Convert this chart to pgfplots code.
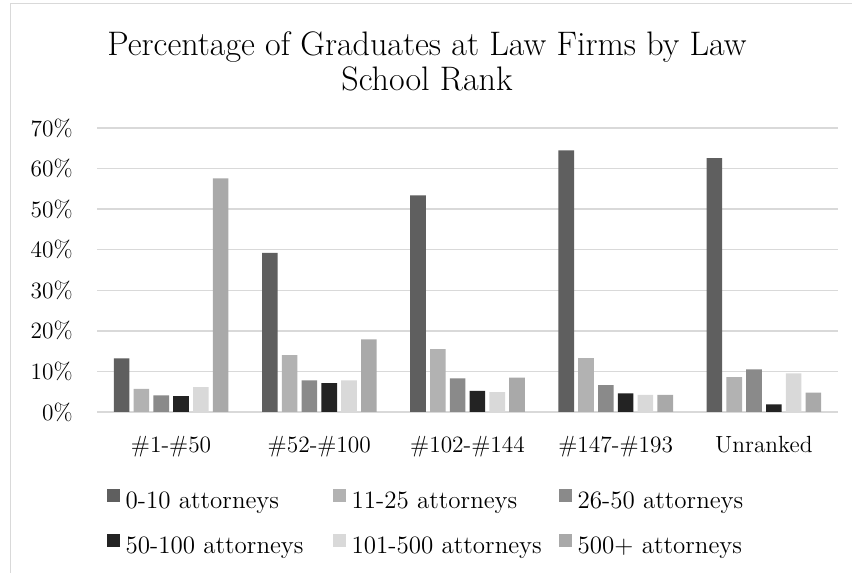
\documentclass[border=0pt]{standalone}
\usepackage{pgfplots}
\pgfplotsset{compat=1.18}
\definecolor{c1}{HTML}{5F5F5F}
\definecolor{c2}{HTML}{B2B2B2}
\definecolor{c3}{HTML}{8A8A8A}
\definecolor{c4}{HTML}{232323}
\definecolor{c5}{HTML}{D9D9D9}
\definecolor{c6}{HTML}{A9A9A9}
\definecolor{gridc}{HTML}{D9D9D9}
\begin{document}
\begin{tikzpicture}
\useasboundingbox (0,0) rectangle (426pt,286.5pt);
\fill[white] (0,0) rectangle (426pt,286.5pt);
\draw[gridc, line width=0.75pt] (5.25pt,0) -- (5.25pt,284.75pt) -- (426pt,284.75pt);
\node[align=center, font=\fontsize{17}{17.5}\selectfont] at (213.5pt,256pt) {Percentage of Graduates at Law Firms by Law\\School Rank};
\begin{axis}[
  at={(48.5pt,80.5pt)}, anchor=south west,
  scale only axis, width=370.5pt, height=142pt,
  ymin=0, ymax=70, xmin=-0.5, xmax=4.5,
  ybar=2.1pt, bar width=7.8pt,
  xtick={0,...,4},
  xticklabels={\#1-\#50,\#52-\#100,\#102-\#144,\#147-\#193,Unranked},
  ytick={0,10,...,70},
  yticklabels={0\%,10\%,20\%,30\%,40\%,50\%,60\%,70\%},
  tick style={draw=none}, major tick length=0pt,
  axis x line*=bottom, axis y line*=left,
  x axis line style={gridc, line width=0.75pt, -},
  y axis line style={draw=none, -},
  ymajorgrids, grid style={gridc, line width=0.75pt},
  tick label style={font=\fontsize{11.7}{13}\selectfont},
  xticklabel style={anchor=base, yshift=-20.5pt},
  yticklabel style={anchor=east, inner xsep=0pt, xshift=-12pt},
  legend columns=3,
  legend cell align=left,
  legend image code/.code={\draw[#1, draw=none] (0pt,0.5pt) rectangle (6.5pt,7pt);},
  legend style={at={(0.0135,-0.2711)}, anchor=north west, draw=none, fill=none,
    inner sep=0pt, outer sep=0pt, row sep=10.3pt, column sep=0pt,
    font=\fontsize{12.5}{14}\selectfont,
    nodes={inner sep=0pt, text height=8pt, text depth=2.5pt, text width=103.65pt, align=left},
    /tikz/every odd column/.append style={column sep=2.85pt}},
]
\addplot[fill=c1, draw=none] coordinates {(0,13.2) (1,39.2) (2,53.4) (3,64.5) (4,62.6)};
\addlegendentry{0-10 attorneys}
\addplot[fill=c2, draw=none] coordinates {(0,5.7) (1,14.0) (2,15.5) (3,13.3) (4,8.6)};
\addlegendentry{11-25 attorneys}
\addplot[fill=c3, draw=none] coordinates {(0,4.1) (1,7.8) (2,8.3) (3,6.6) (4,10.5)};
\addlegendentry{26-50 attorneys}
\addplot[fill=c4, draw=none] coordinates {(0,3.9) (1,7.1) (2,5.2) (3,4.6) (4,1.9)};
\addlegendentry{50-100 attorneys}
\addplot[fill=c5, draw=none] coordinates {(0,6.1) (1,7.8) (2,4.9) (3,4.2) (4,9.5)};
\addlegendentry{101-500 attorneys}
\addplot[fill=c6, draw=none] coordinates {(0,57.6) (1,17.9) (2,8.5) (3,4.2) (4,4.8)};
\addlegendentry{500+ attorneys}
\end{axis}
\end{tikzpicture}
\end{document}
